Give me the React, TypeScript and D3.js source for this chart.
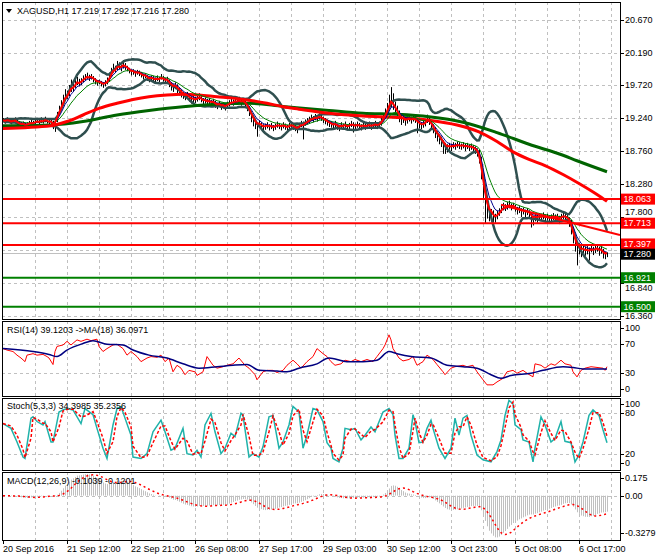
import React from 'react';
import * as d3 from 'd3';

// ---------------- DATA ----------------
const closes = [
  19.21, 19.19, 19.22, 19.20, 19.18, 19.20, 19.21, 19.17, 19.15, 19.14, 19.16, 19.13, 19.15, 19.17, 19.18, 19.16, 19.19, 19.20, 19.18, 19.21, 19.19, 19.22, 19.20, 19.17, 19.19,
  19.12, 19.20, 19.30,
  19.38, 19.45, 19.52, 19.60, 19.58, 19.66, 19.72, 19.70,
  19.75, 19.80, 19.74, 19.78, 19.82,
  19.84, 19.86, 19.82, 19.85, 19.80, 19.78, 19.75, 19.77,
  19.74, 19.72, 19.75, 19.78, 19.85, 19.92,
  19.98, 19.95, 20.02, 20.00, 19.97, 20.03, 19.99, 19.96,
  19.93, 19.90, 19.92, 19.88, 19.91, 19.89, 19.87,
  19.84, 19.86, 19.82, 19.80, 19.83, 19.81, 19.79, 19.82, 19.80, 19.84, 19.81, 19.78, 19.80,
  19.74, 19.70, 19.68, 19.72, 19.66, 19.63, 19.60,
  19.57, 19.55, 19.58, 19.53, 19.50, 19.52,
  19.50, 19.53, 19.55, 19.52, 19.48, 19.50, 19.47, 19.49, 19.46, 19.48,
  19.44, 19.42, 19.45, 19.41, 19.43, 19.40, 19.44, 19.46, 19.48, 19.47,
  19.50, 19.48, 19.51, 19.47, 19.49, 19.45, 19.40,
  19.33, 19.25, 19.20, 19.15, 19.12, 19.16, 19.13, 19.10,
  19.12, 19.14, 19.11, 19.13, 19.10, 19.12, 19.15, 19.13, 19.11, 19.14, 19.12, 19.10, 19.13,
  19.15, 19.12, 19.10, 19.08, 19.13, 19.16, 19.14, 19.18, 19.20, 19.22,
  19.25, 19.23, 19.26, 19.24, 19.27, 19.25, 19.22, 19.20, 19.18, 19.16,
  19.15, 19.13, 19.16, 19.12, 19.10, 19.14, 19.12, 19.15, 19.11, 19.13, 19.16, 19.14, 19.12, 19.15, 19.13, 19.11, 19.14, 19.12, 19.13, 19.15, 19.12, 19.14, 19.16, 19.13, 19.15,
  19.20, 19.26, 19.32, 19.40, 19.48,
  19.55,
  19.42, 19.36, 19.30, 19.25, 19.20, 19.23, 19.19,
  19.22, 19.25, 19.21, 19.24, 19.22, 19.18, 19.15,
  19.13, 19.15, 19.18, 19.24, 19.20, 19.14,
  19.08, 19.02, 18.98, 18.95, 18.90, 18.86,
  18.82, 18.80, 18.84, 18.82, 18.85, 18.83, 18.86, 18.84, 18.83, 18.85, 18.82, 18.84, 18.81, 18.83, 18.80, 18.78, 18.75,
  18.65, 18.42, 18.18, 17.98, 17.88,
  17.82, 17.86, 17.80, 17.78, 17.84, 17.88,
  17.93, 17.96, 17.94, 17.97, 17.99, 17.95, 17.97,
  17.93, 17.90, 17.92, 17.88, 17.90, 17.87, 17.89, 17.86,
  17.80, 17.76, 17.82, 17.79,
  17.82, 17.80, 17.83, 17.79, 17.81, 17.78, 17.80, 17.82, 17.79, 17.81, 17.77, 17.80, 17.83, 17.81, 17.78, 17.74,
  17.62, 17.50, 17.40, 17.32, 17.36,
  17.30, 17.34, 17.31, 17.33, 17.30, 17.35, 17.32, 17.34, 17.36, 17.31, 17.33, 17.27, 17.25, 17.28,
];

const highs = [
  19.24, 19.23, 19.25, 19.23, 19.22, 19.23, 19.25, 19.22, 19.19, 19.18, 19.19, 19.17, 19.18, 19.20, 19.22, 19.20, 19.22, 19.24, 19.22, 19.25, 19.22, 19.26, 19.24, 19.21, 19.22,
  19.20, 19.24, 19.33,
  19.42, 19.50, 19.58, 19.66, 19.64, 19.72, 19.80, 19.76,
  19.80, 19.84, 19.81, 19.82, 19.86,
  19.88, 19.90, 19.87, 19.88, 19.85, 19.82, 19.79, 19.80,
  19.78, 19.76, 19.79, 19.83, 19.90, 19.97,
  20.03, 20.00, 20.07, 20.05, 20.01, 20.08, 20.04, 20.00,
  19.97, 19.94, 19.95, 19.93, 19.94, 19.93, 19.91,
  19.88, 19.89, 19.86, 19.84, 19.86, 19.85, 19.83, 19.86, 19.84, 19.88, 19.85, 19.82, 19.84,
  19.80, 19.76, 19.73, 19.76, 19.73, 19.68, 19.65,
  19.62, 19.60, 19.62, 19.59, 19.55, 19.56,
  19.55, 19.57, 19.60, 19.57, 19.53, 19.54, 19.52, 19.53, 19.50, 19.52,
  19.49, 19.46, 19.49, 19.45, 19.47, 19.44, 19.48, 19.50, 19.52, 19.51,
  19.54, 19.52, 19.55, 19.52, 19.53, 19.50, 19.46,
  19.41, 19.34, 19.27, 19.22, 19.18, 19.20, 19.18, 19.15,
  19.16, 19.18, 19.15, 19.17, 19.14, 19.16, 19.19, 19.17, 19.15, 19.18, 19.16, 19.14, 19.17,
  19.19, 19.16, 19.14, 19.12, 19.17, 19.20, 19.19, 19.22, 19.24, 19.26,
  19.29, 19.27, 19.30, 19.28, 19.31, 19.29, 19.26, 19.24, 19.22, 19.20,
  19.19, 19.17, 19.20, 19.16, 19.14, 19.18, 19.16, 19.19, 19.15, 19.17, 19.20, 19.18, 19.16, 19.19, 19.17, 19.15, 19.18, 19.16, 19.17, 19.19, 19.16, 19.18, 19.20, 19.17, 19.19,
  19.24, 19.31, 19.38, 19.46, 19.58,
  19.69,
  19.60, 19.48, 19.42, 19.35, 19.28, 19.29, 19.26,
  19.27, 19.30, 19.26, 19.29, 19.27, 19.23, 19.20,
  19.18, 19.20, 19.23, 19.29, 19.26, 19.20,
  19.15, 19.10, 19.05, 19.00, 18.97, 18.92,
  18.88, 18.86, 18.88, 18.87, 18.89, 18.88, 18.90, 18.89, 18.87, 18.89, 18.87, 18.88, 18.86, 18.87, 18.85, 18.83, 18.80,
  18.78, 18.68, 18.45, 18.22, 18.02,
  17.92, 17.92, 17.90, 17.85, 17.89, 17.93,
  17.98, 18.01, 17.99, 18.02, 18.04, 18.00, 18.01,
  17.98, 17.95, 17.96, 17.93, 17.94, 17.91, 17.93, 17.90,
  17.87, 17.82, 17.86, 17.84,
  17.86, 17.85, 17.87, 17.84, 17.85, 17.83, 17.84, 17.86, 17.84, 17.85, 17.82, 17.85, 17.88, 17.86, 17.83, 17.80,
  17.76, 17.66, 17.54, 17.44, 17.42,
  17.38, 17.39, 17.37, 17.38, 17.36, 17.40, 17.37, 17.39, 17.41, 17.37, 17.38, 17.34, 17.30, 17.29,
];

const lows = [
  19.18, 19.16, 19.18, 19.17, 19.15, 19.17, 19.18, 19.13, 19.11, 19.10, 19.12, 19.09, 19.12, 19.13, 19.15, 19.13, 19.15, 19.17, 19.15, 19.17, 19.16, 19.18, 19.16, 19.13, 19.15,
  19.08, 19.04, 19.18,
  19.28, 19.36, 19.42, 19.50, 19.52, 19.56, 19.62, 19.62,
  19.68, 19.72, 19.70, 19.72, 19.76,
  19.79, 19.81, 19.78, 19.80, 19.76, 19.73, 19.71, 19.73,
  19.70, 19.68, 19.70, 19.73, 19.77, 19.84,
  19.90, 19.91, 19.94, 19.95, 19.92, 19.96, 19.94, 19.92,
  19.89, 19.86, 19.87, 19.84, 19.87, 19.85, 19.83,
  19.80, 19.82, 19.78, 19.76, 19.79, 19.77, 19.75, 19.78, 19.76, 19.80, 19.77, 19.74, 19.76,
  19.69, 19.64, 19.62, 19.66, 19.60, 19.57, 19.54,
  19.52, 19.50, 19.53, 19.48, 19.45, 19.47,
  19.46, 19.48, 19.50, 19.47, 19.43, 19.45, 19.42, 19.44, 19.41, 19.43,
  19.39, 19.37, 19.40, 19.36, 19.38, 19.35, 19.39, 19.41, 19.43, 19.42,
  19.45, 19.43, 19.46, 19.42, 19.44, 19.40, 19.34,
  19.27, 19.18, 19.12, 19.08, 18.97, 19.10, 19.07, 19.04,
  19.07, 19.09, 19.06, 19.08, 19.05, 19.07, 19.10, 19.08, 19.06, 19.09, 19.07, 19.05, 19.08,
  19.10, 19.07, 19.05, 19.02, 19.07, 19.11, 18.93, 19.13, 19.15, 19.17,
  19.20, 19.18, 19.21, 19.19, 19.22, 19.20, 19.17, 19.15, 19.13, 19.11,
  19.10, 19.08, 19.11, 19.07, 19.05, 19.09, 19.07, 19.10, 19.06, 19.08, 19.11, 19.03, 19.07, 19.10, 19.08, 19.06, 19.09, 19.07, 19.08, 19.10, 19.07, 19.09, 19.11, 19.08, 19.10,
  19.13, 19.19, 19.25, 19.31, 19.38,
  19.40,
  19.36, 19.30, 19.24, 19.18, 19.14, 19.17, 19.13,
  19.16, 19.19, 19.16, 19.19, 19.17, 19.02, 19.09,
  19.08, 19.10, 19.12, 19.17, 19.14, 19.08,
  19.02, 18.95, 18.90, 18.86, 18.82, 18.72,
  18.72, 18.74, 18.78, 18.76, 18.80, 18.78, 18.81, 18.79, 18.78, 18.80, 18.76, 18.79, 18.76, 18.78, 18.74, 18.72, 18.68,
  18.58, 18.35, 18.08, 17.71, 17.78,
  17.74, 17.78, 17.73, 17.72, 17.77, 17.82,
  17.86, 17.90, 17.89, 17.91, 17.93, 17.90, 17.92,
  17.88, 17.84, 17.86, 17.80, 17.84, 17.80, 17.83, 17.79,
  17.65, 17.68, 17.74, 17.72,
  17.76, 17.75, 17.77, 17.72, 17.75, 17.72, 17.74, 17.76, 17.73, 17.75, 17.70, 17.74, 17.77, 17.75, 17.71, 17.66,
  17.55, 17.42, 17.30, 17.10, 17.26,
  17.22, 17.28, 17.24, 17.26, 17.17, 17.29, 17.25, 17.28, 17.30, 17.24, 17.27, 17.20, 17.19, 17.22,
];

// slow moving averages (read directly): bar index -> price
const slowRedBars = [0, 24, 32, 40, 48, 57, 65, 73, 82, 90, 98, 107, 115, 123, 132, 140, 148, 163, 180, 197, 213, 227, 238, 247, 255, 263, 271, 280, 288, 297, 302];
const slowRedVals = [19.09, 19.13, 19.19, 19.285, 19.38, 19.455, 19.51, 19.55, 19.575, 19.585, 19.575, 19.55, 19.53, 19.50, 19.455, 19.405, 19.37, 19.31, 19.27, 19.25, 19.21, 19.14, 19.04, 18.90, 18.75, 18.64, 18.55, 18.42, 18.29, 18.13, 18.03];
const slowGreenBars = [0, 24, 40, 57, 73, 90, 107, 123, 140, 163, 180, 197, 213, 230, 247, 263, 280, 287, 302];
const slowGreenVals = [19.13, 19.14, 19.19, 19.285, 19.35, 19.405, 19.44, 19.455, 19.41, 19.35, 19.31, 19.295, 19.26, 19.18, 19.03, 18.86, 18.70, 18.62, 18.46];

// trend line anchors (bar index, price)
const trendBars = [249, 308.5];
const trendVals = [17.98, 17.54];

const resistanceLevels = [18.063, 17.713, 17.397];
const supportLevels = [16.921, 16.5];
const bidPrice = 17.28;

// RSI(14) (bar index -> value)
const rsiBars = [
  0, 2, 5, 7, 9, 11, 12, 15, 17, 20, 22, 23, 25, 26, 27, 30, 32, 34, 37, 39,
  42, 44, 47, 48, 50, 52, 55, 57, 60, 62, 64, 67, 69, 72, 74, 77, 79, 81, 83, 85,
  87, 89, 91, 93, 96, 97, 100, 102, 105, 107, 110, 112, 115, 118, 121, 123, 126, 127, 130, 132,
  135, 137, 140, 142, 145, 147, 149, 152, 155, 157, 160, 162,
  164, 166, 169, 171, 174, 176, 179, 182, 185, 187, 190, 191, 193, 194, 195, 198, 200, 203, 205, 207,
  210, 212, 215, 217, 220, 221, 224, 226, 230, 232, 235, 237, 240, 242, 245, 247, 250, 252, 255, 257,
  260, 262, 265, 266, 269, 271, 274, 276, 279, 281, 284, 285, 287, 289, 291, 294, 297, 300, 301, 302,
];
const rsiVals = [
  64, 62, 60, 55, 51, 46, 55, 57, 55, 56, 53, 51, 42, 60, 67, 69, 74, 69, 76, 74,
  77, 75, 77, 67, 60, 64, 69, 70, 64, 55, 60, 53, 46, 51, 53, 52, 55, 46, 51, 32,
  41, 37, 28, 34, 32, 27, 32, 53, 41, 37, 39, 41, 43, 51, 41, 37, 28, 21, 32, 34,
  34, 31, 34, 41, 48, 43, 37, 46, 53, 64, 57, 53,
  46, 41, 43, 48, 46, 49, 46, 49, 46, 53, 64, 69, 83, 76, 64, 51, 47, 49, 53, 41,
  46, 55, 49, 42, 32, 28, 37, 39, 41, 39, 41, 32, 21, 14, 14, 18, 23, 32, 34, 30,
  34, 30, 25, 43, 41, 37, 43, 41, 48, 43, 41, 32, 25, 34, 37, 39, 38, 37, 34, 39,
];
// MA(18) of RSI
const rsiMaBars = [0, 15, 23, 27, 32, 40, 45, 52, 60, 65, 73, 82, 90, 98, 107, 115, 122, 128, 137, 142, 148, 157, 163, 172, 180, 187, 193, 197, 204, 214, 222, 230, 237, 244, 249, 254, 264, 270, 280, 285, 290, 297, 302];
const rsiMaVals = [64, 60, 56, 53, 62, 71, 75, 70, 69, 62, 55, 51, 43, 37, 39, 41, 42, 34, 33, 32, 37, 43, 51, 46, 46, 48, 60, 57, 53, 51, 41, 39, 37, 28, 23, 27, 30, 34, 39, 38, 36, 36, 36];

// Stochastic %K (bar index -> value)
const stochBars = [
  0, 4, 7, 10, 11, 14, 15, 17, 20, 21, 24, 25, 28, 30, 32, 35, 39, 41, 45, 47,
  50, 52, 55, 57, 59, 61, 64, 65, 69, 72, 75, 79, 81, 84, 86, 90, 92, 95, 97, 99,
  101, 104, 106, 109, 111, 114, 116, 119, 120, 123, 125, 128, 130, 133, 135, 138, 140, 143, 145, 148,
  150, 152, 155, 157, 160, 162, 164,
  165, 168, 170, 171, 174, 176, 179, 181, 184, 186, 190, 193, 195, 196, 198, 200, 203, 205, 206, 208,
  210, 212, 214, 215, 218, 221, 224, 226, 228, 230, 232, 234, 237, 240, 244, 247, 249, 251, 253, 255,
  256, 259, 260, 263, 265, 266, 269, 271, 274, 276, 279, 281, 284, 286, 288, 290, 293, 295, 298, 300, 302,
];
const stochVals = [
  64, 57, 37, 15, 13, 72, 74, 67, 62, 67, 37, 37, 81, 84, 86, 84, 64, 86, 77, 57,
  28, 13, 62, 86, 89, 72, 47, 15, 13, 20, 52, 69, 52, 25, 28, 57, 20, 18, 25, 15,
  62, 79, 52, 20, 28, 50, 45, 79, 76, 15, 20, 15, 30, 74, 76, 28, 37, 62, 89, 81,
  28, 47, 86, 84, 67, 36, 28,
  13, 8, 28, 57, 55, 57, 40, 47, 59, 52, 81, 86, 77, 47, 13, 13, 28, 77, 67, 36,
  37, 57, 69, 57, 28, 13, 28, 72, 47, 72, 76, 47, 18, 11, 8, 23, 40, 76, 98, 93,
  62, 55, 40, 37, 8, 28, 74, 62, 37, 42, 67, 38, 36, 8, 18, 37, 76, 84, 76, 55, 36,
];

const priceTicks = [20.67, 20.19, 19.72, 19.24, 18.76, 18.28, 17.8, 17.32, 16.84, 16.36];
const hiddenPriceTicks = [17.32]; // fully covered by the level boxes in the reference
const timeLabels = ['20 Sep 2016', '21 Sep 12:00', '22 Sep 21:00', '26 Sep 08:00', '27 Sep 17:00', '29 Sep 03:00', '30 Sep 12:00', '3 Oct 23:00', '5 Oct 08:00', '6 Oct 17:00'];
const rsiTicks = [100, 70, 30, 0];
const stochTicks = [100, 80, 20, 0];
const macdTicks = [0.175, 0, -0.3279];
const macdTickText = ['0.175', '0.00', '-0.3279'];

const headerText = 'XAGUSD,H1  17.219 17.292 17.216 17.280';
const rsiText = 'RSI(14) 39.1203  ->MA(18) 36.0971';
const stochText = 'Stoch(5,3,3) 34.3985 35.2356';
const macdText = 'MACD(12,26,9) -0.1039 -0.1201';

// ---------------- indicator math ----------------
function ema(src: number[], n: number) {
  const k = 2 / (n + 1);
  const out: number[] = [];
  src.forEach((v, i) => out.push(i === 0 ? v : out[i - 1] + k * (v - out[i - 1])));
  return out;
}
function sma(src: number[], n: number) {
  return src.map((_, i) => d3.mean(src.slice(Math.max(0, i - n + 1), i + 1)) as number);
}
function bands(src: number[], n: number, dev: number) {
  const up: number[] = [], lo: number[] = [];
  src.forEach((_, i) => {
    const w = src.slice(Math.max(0, i - n + 1), i + 1);
    const m = d3.mean(w) as number;
    const sd = Math.sqrt(d3.mean(w.map((v) => (v - m) * (v - m))) as number);
    up.push(m + dev * sd);
    lo.push(m - dev * sd);
  });
  return { up, lo };
}

// ---------------- layout ----------------
const W = 660, H = 560;
const L = 2, R = 620;
const P = {
  main: { top: 2, bottom: 319 },
  rsi: { top: 321, bottom: 396 },
  sto: { top: 398, bottom: 470 },
  macd: { top: 472, bottom: 540 },
};
const FONT = '"Liberation Sans", Arial, sans-serif';
const FS = 9;
const BOX_H = 11;
// small vertical nudges (px) so that neighbouring axis texts do not collide
const labelNudge: Record<string, number> = { '17.800': -5, '16.840': 5, '17.397': -1, '17.280': 1.2 };

export default function App() {
  const n = closes.length;
  const x = d3.scaleLinear().domain([0, n - 1]).range([3, 607]);
  const y = d3.scaleLinear().domain([16.5, 20.19]).range([306.7, 52.7]);
  const yR = d3.scaleLinear().domain([0, 100]).range([395, 322.5]);
  const yS = d3.scaleLinear().domain([0, 100]).range([467.3, 399]);
  const yM = d3.scaleLinear().domain([-0.3279, 0.175]).range([540, 472]);

  const fastRed = ema(closes, 3);
  const fastBlue = ema(closes, 6);
  const fastGreen = ema(closes, 13);
  const bb = bands(closes, 20, 2);
  const e12 = ema(closes, 12), e26 = ema(closes, 26);
  const macd = closes.map((_, i) => e12[i] - e26[i]);
  const macdSig = sma(macd, 9);
  // stochastic signal: smoothing of the %K readings
  const stochSig = stochVals.map((v, k) => (k === 0 ? v : (v + stochVals[k - 1]) / 2));

  const px = (i: number) => Math.round(x(i)) + 0.5;
  const line = (sy: (v: number) => number) =>
    d3.line<number>().x((_, i) => x(i)).y((d) => sy(d));
  const pairLine = (bars: number[], vals: number[], sy: (v: number) => number, cv: any = d3.curveLinear) =>
    d3.line<number>().x((_, i) => x(bars[i])).y((d) => sy(d)).curve(cv)(vals) as string;

  const gridX = d3.range(16, n + 16, 16).map((i) => px(i)).filter((v) => v < R);
  const gridStyle = { stroke: '#c0c0c0', strokeWidth: 1, strokeDasharray: '3,3' };

  const vGrid = (top: number, bottom: number) =>
    gridX.map((gx, k) => <line key={'vg' + k} x1={gx} x2={gx} y1={top} y2={bottom} style={gridStyle} />);

  const hLine = (yy: number) => Math.round(yy) + 0.5;
  const clamp = (v: number, lo: number, hi: number) => Math.max(lo, Math.min(hi, v));

  const axisLabel = (txt: string, yy: number, key: string) => (
    <g key={key}>
      <line x1={R} x2={R + 4} y1={hLine(yy)} y2={hLine(yy)} stroke="#000" />
      <text x={625} y={yy + (labelNudge[txt] || 0)} dominantBaseline="central" fontSize={FS} fontFamily={FONT} fill="#000">{txt}</text>
    </g>
  );

  const levelBox = (price: number, color: string, key: string) => {
    const txt = price.toFixed(3);
    const cy = y(price) + (labelNudge[txt] || 0);
    return (
      <g key={key}>
        <rect x={621} y={cy - BOX_H / 2} width={34} height={BOX_H} fill={color} />
        <text x={623.5} y={cy} dominantBaseline="central" fontSize={FS} fontFamily={FONT} fill="#fff">{txt}</text>
      </g>
    );
  };

  return (
    <svg width={W} height={H} style={{ position: 'absolute', left: 0, top: 0, background: '#fff' }}>
      <defs>
        {Object.entries(P).map(([k, p]) => (
          <clipPath id={'clip-' + k} key={k}>
            <rect x={L} y={p.top} width={R - L} height={p.bottom - p.top} />
          </clipPath>
        ))}
      </defs>
      <rect x={0} y={0} width={W} height={H} fill="#fff" />

      {/* ---------- MAIN PANEL ---------- */}
      <g clipPath="url(#clip-main)">
        {vGrid(P.main.top, P.main.bottom)}
        {priceTicks.map((t, k) => (
          <line key={'hg' + k} x1={L} x2={R} y1={hLine(y(t))} y2={hLine(y(t))} style={gridStyle} />
        ))}
        <line x1={L} x2={R} y1={hLine(y(bidPrice))} y2={hLine(y(bidPrice))} stroke="#c0c0c0" strokeWidth={1} />
        {closes.map((_, i) => (
          <line key={'b' + i} x1={px(i)} x2={px(i)} y1={y(highs[i])} y2={y(lows[i])} stroke="#000" strokeWidth={1} />
        ))}
        <path d={line(y)(bb.up) as string} fill="none" stroke="#2f4f4f" strokeWidth={2.5} />
        <path d={line(y)(bb.lo) as string} fill="none" stroke="#2f4f4f" strokeWidth={2.5} />
        <path d={pairLine(slowGreenBars, slowGreenVals, y, d3.curveMonotoneX)} fill="none" stroke="#006400" strokeWidth={3} />
        <path d={pairLine(slowRedBars, slowRedVals, y, d3.curveMonotoneX)} fill="none" stroke="#ff0000" strokeWidth={3} />
        <path d={line(y)(fastGreen) as string} fill="none" stroke="#008000" strokeWidth={1} />
        <path d={line(y)(fastBlue) as string} fill="none" stroke="#00008b" strokeWidth={1} />
        <path d={line(y)(fastRed) as string} fill="none" stroke="#ff0000" strokeWidth={2} />
        {resistanceLevels.map((lv, k) => (
          <line key={'rl' + k} x1={L} x2={R} y1={y(lv)} y2={y(lv)} stroke="#ff0000" strokeWidth={2} />
        ))}
        {supportLevels.map((lv, k) => (
          <line key={'sl' + k} x1={L} x2={R} y1={y(lv)} y2={y(lv)} stroke="#008000" strokeWidth={2} />
        ))}
        <line x1={x(trendBars[0])} y1={y(trendVals[0])} x2={x(trendBars[1])} y2={y(trendVals[1])} stroke="#ff0000" strokeWidth={2} />
      </g>
      <polygon points="6,9 12,9 9,13" fill="#000" />
      <text x={17} y={11} dominantBaseline="central" fontSize={FS} fontFamily={FONT} fill="#000">{headerText}</text>

      {/* ---------- RSI PANEL ---------- */}
      <g clipPath="url(#clip-rsi)">
        {vGrid(P.rsi.top, P.rsi.bottom)}
        {[70, 30].map((t) => (
          <line key={'rg' + t} x1={L} x2={R} y1={hLine(yR(t))} y2={hLine(yR(t))} style={gridStyle} />
        ))}
        <path d={pairLine(rsiBars, rsiVals, yR)} fill="none" stroke="#ff0000" strokeWidth={1} />
        <path d={pairLine(rsiMaBars, rsiMaVals, yR, d3.curveMonotoneX)} fill="none" stroke="#000080" strokeWidth={1.5} />
      </g>
      <text x={7} y={330} dominantBaseline="central" fontSize={FS} fontFamily={FONT} fill="#000">{rsiText}</text>

      {/* ---------- STOCH PANEL ---------- */}
      <g clipPath="url(#clip-sto)">
        {vGrid(P.sto.top, P.sto.bottom)}
        {[80, 20].map((t) => (
          <line key={'sg' + t} x1={L} x2={R} y1={hLine(yS(t))} y2={hLine(yS(t))} style={gridStyle} />
        ))}
        <path d={pairLine(stochBars, stochVals, yS)} fill="none" stroke="#20b2aa" strokeWidth={1.5} />
        <path d={pairLine(stochBars, stochSig, yS)} fill="none" stroke="#ff0000" strokeWidth={1.5} strokeDasharray="3,2" />
      </g>
      <text x={7} y={406} dominantBaseline="central" fontSize={FS} fontFamily={FONT} fill="#000">{stochText}</text>

      {/* ---------- MACD PANEL ---------- */}
      <g clipPath="url(#clip-macd)">
        {vGrid(P.macd.top, P.macd.bottom)}
        <line x1={L} x2={R} y1={hLine(yM(0))} y2={hLine(yM(0))} style={gridStyle} />
        {macd.map((v, i) => (
          <line key={'h' + i} x1={px(i)} x2={px(i)} y1={yM(0)} y2={yM(v)} stroke="#c0c0c0" strokeWidth={1} />
        ))}
        <path d={line(yM)(macdSig) as string} fill="none" stroke="#ff0000" strokeWidth={1.5} strokeDasharray="2,3" />
      </g>
      <text x={7} y={481} dominantBaseline="central" fontSize={FS} fontFamily={FONT} fill="#000">{macdText}</text>

      {/* ---------- frames ---------- */}
      {Object.entries(P).map(([k, p]) => (
        <rect key={'f' + k} x={L + 0.5} y={p.top + 0.5} width={R - L} height={p.bottom - p.top} fill="none" stroke="#000" strokeWidth={1} />
      ))}

      {/* ---------- price axis ---------- */}
      {priceTicks.filter((t) => !hiddenPriceTicks.includes(t)).map((t, k) => axisLabel(t.toFixed(3), y(t), 'pt' + k))}
      {resistanceLevels.map((lv, k) => levelBox(lv, '#ff0000', 'rb' + k))}
      {levelBox(bidPrice, '#000000', 'bid')}
      {supportLevels.map((lv, k) => levelBox(lv, '#008000', 'sb' + k))}

      {rsiTicks.map((t) => axisLabel(String(t), clamp(yR(t), P.rsi.top + 6.5, P.rsi.bottom - 7.5), 'ra' + t))}
      {stochTicks.map((t) => axisLabel(String(t), clamp(yS(t), P.sto.top + 6, P.sto.bottom - 7.5), 'sa' + t))}
      {macdTicks.map((t, k) => axisLabel(macdTickText[k], clamp(yM(t), P.macd.top + 5.5, P.macd.bottom - 7), 'ma' + k))}

      {/* ---------- time axis ---------- */}
      {timeLabels.map((t, k) => (
        <g key={'t' + k}>
          <line x1={px(k * 32)} x2={px(k * 32)} y1={P.macd.bottom} y2={P.macd.bottom + 4} stroke="#000" />
          <text x={x(k * 32)} y={549} dominantBaseline="central" fontSize={FS} fontFamily={FONT} fill="#000">{t}</text>
        </g>
      ))}
    </svg>
  );
}
